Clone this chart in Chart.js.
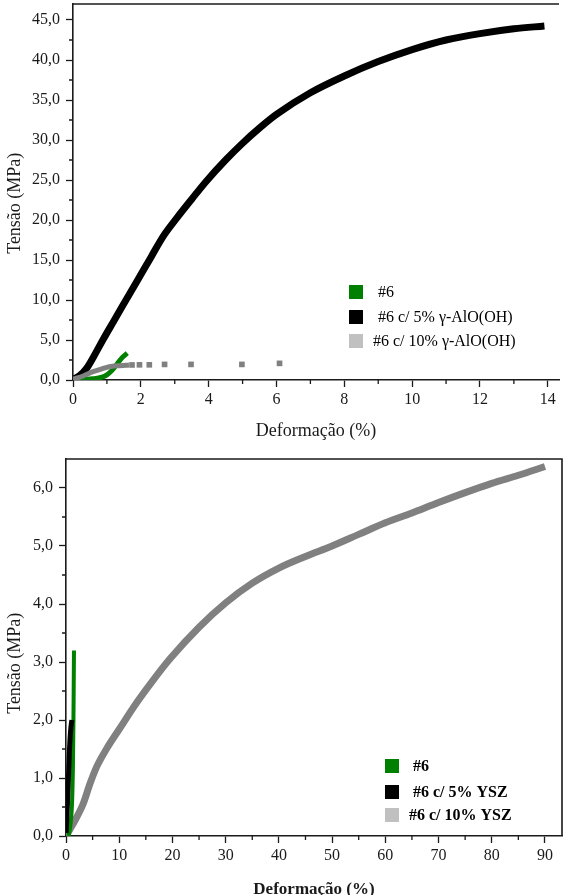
<!DOCTYPE html>
<html><head><meta charset="utf-8">
<script src="https://cdn.jsdelivr.net/npm/chart.js@4.4.0/dist/chart.umd.min.js"></script>
<style>
html,body{margin:0;padding:0;background:#fff;overflow:hidden;width:563px;height:895px}
#c1{position:absolute;left:0;top:0}
#c2{position:absolute;left:0;top:450px}
</style></head><body>
<canvas id="c1" width="563" height="450"></canvas>
<canvas id="c2" width="563" height="460"></canvas>
<script>
// ---------- TOP CHART DATA ----------
const topLabels = ['#6', '#6 c/ 5% γ-AlO(OH)', '#6 c/ 10% γ-AlO(OH)'];
const topXTicks = [0, 2, 4, 6, 8, 10, 12, 14];
const topXMinor = [1, 3, 5, 7, 9, 11, 13];
const topYTicks = [0, 5, 10, 15, 20, 25, 30, 35, 40, 45];
const topYMinor = [2.5, 7.5, 12.5, 17.5, 22.5, 27.5, 32.5, 37.5, 42.5];

const top6X = [0, 0.3, 0.6, 0.85, 1.0, 1.15, 1.3, 1.45, 1.6];
const top6Y = [0, 0.05, 0.15, 0.35, 0.65, 1.2, 2.0, 2.8, 3.35];

const top5X = [0, 0.2, 0.4, 0.6, 0.88, 1.2, 1.55, 1.9, 2.3, 2.65, 3.07, 3.5, 3.9, 4.5, 5, 5.5, 6, 7, 8, 9, 10, 11, 12, 13, 13.9];
const top5Y = [0.1, 0.55, 1.45, 2.85, 5, 7.35, 9.9, 12.45, 15.35, 17.9, 20.3, 22.6, 24.7, 27.5, 29.6, 31.5, 33.2, 35.9, 38, 39.8, 41.3, 42.5, 43.3, 43.9, 44.25];

const top10X = [0, 0.3, 0.59, 0.85, 1.07, 1.3, 1.56, 1.65];
const top10Y = [0.1, 0.5, 1.04, 1.4, 1.66, 1.78, 1.84, 1.86];
const top10DotsX = [1.74, 1.96, 2.25, 2.70, 3.48, 4.98, 6.09];
const top10DotsY = [1.88, 1.9, 1.9, 1.95, 1.95, 1.95, 2.08];

// ---------- BOTTOM CHART DATA ----------
const botLabels = ['#6', '#6 c/ 5% YSZ', '#6 c/ 10% YSZ'];
const botXTicks = [0, 10, 20, 30, 40, 50, 60, 70, 80, 90];
const botXMinor = [5, 15, 25, 35, 45, 55, 65, 75, 85];
const botYTicks = [0, 1, 2, 3, 4, 5, 6];
const botYMinor = [0.5, 1.5, 2.5, 3.5, 4.5, 5.5];

const bot6X = [0.5, 0.9, 1.15, 1.3, 1.4, 1.45, 1.5];
const bot6Y = [0, 0.25, 0.6, 1.2, 2.0, 2.6, 3.2];

const bot5X = [0, 0.15, 0.3, 0.5, 0.65, 0.85, 1.1];
const bot5Y = [0.05, 0.3, 0.62, 1.1, 1.48, 1.8, 2.0];

const bot10X = [0, 1.7, 3.25, 4.5, 5.8, 7.6, 10, 13.3, 16, 19.5, 25, 30, 35, 40, 45, 50, 55, 60, 65, 70, 75, 80, 85, 90];
const bot10Y = [0, 0.27, 0.56, 0.9, 1.2, 1.5, 1.84, 2.3, 2.64, 3.05, 3.6, 4.02, 4.36, 4.62, 4.82, 5.0, 5.2, 5.4, 5.57, 5.75, 5.92, 6.08, 6.22, 6.37];

// ---------- helpers ----------
const pts = (xs, ys) => xs.map((x, i) => ({x: x, y: ys[i]}));
const comma1 = v => Number(v).toFixed(1).replace('.', ',');
Chart.defaults.font.family = '"Liberation Serif", "Times New Roman", serif';
Chart.defaults.color = '#1a1a1a';

const decor = {
  id: 'decor',
  afterDraw(chart, args, o) {
    const ctx = chart.ctx, a = chart.chartArea;
    const xs = chart.scales.x, ys = chart.scales.y;
    ctx.save();
    ctx.strokeStyle = '#1a1a1a';
    ctx.lineWidth = 1.6;
    ctx.beginPath();
    ctx.moveTo(a.left - 0.8, a.top); ctx.lineTo(a.right + (o.rightBorder ? 0.8 : 0), a.top);
    if (o.rightBorder) { ctx.moveTo(a.right, a.top); ctx.lineTo(a.right, a.bottom); }
    ctx.stroke();
    ctx.lineWidth = 1.3;
    ctx.beginPath();
    o.xMinor.forEach(v => { const p = xs.getPixelForValue(v); ctx.moveTo(p, a.bottom); ctx.lineTo(p, a.bottom + 4); });
    o.yMinor.forEach(v => { const p = ys.getPixelForValue(v); ctx.moveTo(a.left, p); ctx.lineTo(a.left - 4, p); });
    ctx.stroke();
    // legend
    ctx.font = o.legendFont;
    ctx.textBaseline = 'middle';
    ctx.textAlign = 'left';
    o.legend.forEach((e, i) => {
      ctx.fillStyle = e.color;
      ctx.fillRect(o.boxX, o.rows[i] - 7, 14, 14);
      ctx.fillStyle = '#000';
      ctx.fillText(e.text, o.textX[i], o.rows[i] + 1);
    });
    ctx.restore();
  }
};

function scaleCfg(ticks, fmt, title, titleFont, titlePad, fitSize, min, max, horizontal) {
  return {
    type: 'linear', min: min, max: max,
    afterBuildTicks: s => { s.ticks = ticks.map(v => ({value: v})); },
    afterFit: s => {
      if (horizontal) s.height = fitSize; else s.width = fitSize;
      s.paddingTop = 0; s.paddingBottom = 0; s.paddingLeft = 0; s.paddingRight = 0;
    },
    grid: {drawOnChartArea: false, drawTicks: true, tickLength: 7, tickWidth: 1.3, tickColor: '#1a1a1a'},
    border: {display: true, color: '#1a1a1a', width: 1.6},
    ticks: {font: {size: 16}, color: '#1a1a1a', padding: horizontal ? 3 : 6, callback: fmt, maxRotation: 0, autoSkip: false},
    title: {display: true, text: title, font: titleFont, color: '#1a1a1a', padding: titlePad}
  };
}

// ---------- TOP CHART ----------
new Chart(document.getElementById('c1'), {
  type: 'line',
  data: {
    datasets: [
      {label: topLabels[0], data: pts(top6X, top6Y), borderColor: '#008000', borderWidth: 5, pointRadius: 0, cubicInterpolationMode: 'monotone', order: 1},
      {label: topLabels[1], data: pts(top5X, top5Y), borderColor: '#000000', borderWidth: 7, pointRadius: 0, cubicInterpolationMode: 'monotone', order: 2},
      {label: topLabels[2], data: pts(top10X, top10Y), borderColor: '#808080', borderWidth: 5, pointRadius: 0, cubicInterpolationMode: 'monotone', order: 0},
      {label: '', data: pts(top10DotsX, top10DotsY), showLine: false, pointStyle: 'rect', pointRadius: 4, backgroundColor: '#808080', borderColor: '#808080', borderWidth: 0, order: 0}
    ]
  },
  options: {
    responsive: false, animation: false, events: [],
    layout: {padding: {top: 4, right: 0, left: 0, bottom: 0}},
    plugins: {
      legend: {display: false}, tooltip: {enabled: false},
      decor: {
        rightBorder: false, xMinor: topXMinor, yMinor: topYMinor,
        legendFont: '16px "Liberation Serif", serif', boxX: 349, rows: [292, 317, 341], textX: [378, 378, 373],
        legend: [{text: topLabels[0], color: '#008000'}, {text: topLabels[1], color: '#000000'}, {text: topLabels[2], color: '#c0c0c0'}]
      }
    },
    scales: {
      x: scaleCfg(topXTicks, v => String(v), 'Deformação (%)', {size: 18}, {top: 0, bottom: 8}, 70, 0, 14.33, true),
      y: scaleCfg(topYTicks, comma1, 'Tensão (MPa)\u00a0\u00a0\u00a0\u00a0\u00a0', {size: 18}, {top: 4, bottom: 0}, 73, 0, 47, false)
    }
  },
  plugins: [decor]
});

// ---------- BOTTOM CHART ----------
new Chart(document.getElementById('c2'), {
  type: 'line',
  data: {
    datasets: [
      {label: botLabels[0], data: pts(bot6X, bot6Y), borderColor: '#008000', borderWidth: 4, pointRadius: 0, cubicInterpolationMode: 'monotone', order: 1},
      {label: botLabels[1], data: pts(bot5X, bot5Y), borderColor: '#000000', borderWidth: 5, pointRadius: 0, cubicInterpolationMode: 'monotone', order: 0},
      {label: botLabels[2], data: pts(bot10X, bot10Y), borderColor: '#808080', borderWidth: 7, pointRadius: 0, cubicInterpolationMode: 'monotone', order: 2}
    ]
  },
  options: {
    responsive: false, animation: false, events: [],
    layout: {padding: {top: 9, right: 1, left: 0, bottom: 0}},
    plugins: {
      legend: {display: false}, tooltip: {enabled: false},
      decor: {
        rightBorder: true, xMinor: botXMinor, yMinor: botYMinor,
        legendFont: 'bold 16px "Liberation Serif", serif', boxX: 385, rows: [316, 342, 365], textX: [413, 413, 409],
        legend: [{text: botLabels[0], color: '#008000'}, {text: botLabels[1], color: '#000000'}, {text: botLabels[2], color: '#c0c0c0'}]
      }
    },
    scales: {
      x: scaleCfg(botXTicks, v => String(v), 'Deformação (%)', {size: 17, weight: 'bold'}, {top: 0, bottom: 10}, 74, 0, 93.2, true),
      y: scaleCfg(botYTicks, comma1, 'Tensão (MPa)\u00a0\u00a0\u00a0\u00a0\u00a0\u00a0\u00a0', {size: 18}, {top: 4, bottom: 0}, 66, 0, 6.5, false)
    }
  },
  plugins: [decor]
});
</script>
</body></html>
